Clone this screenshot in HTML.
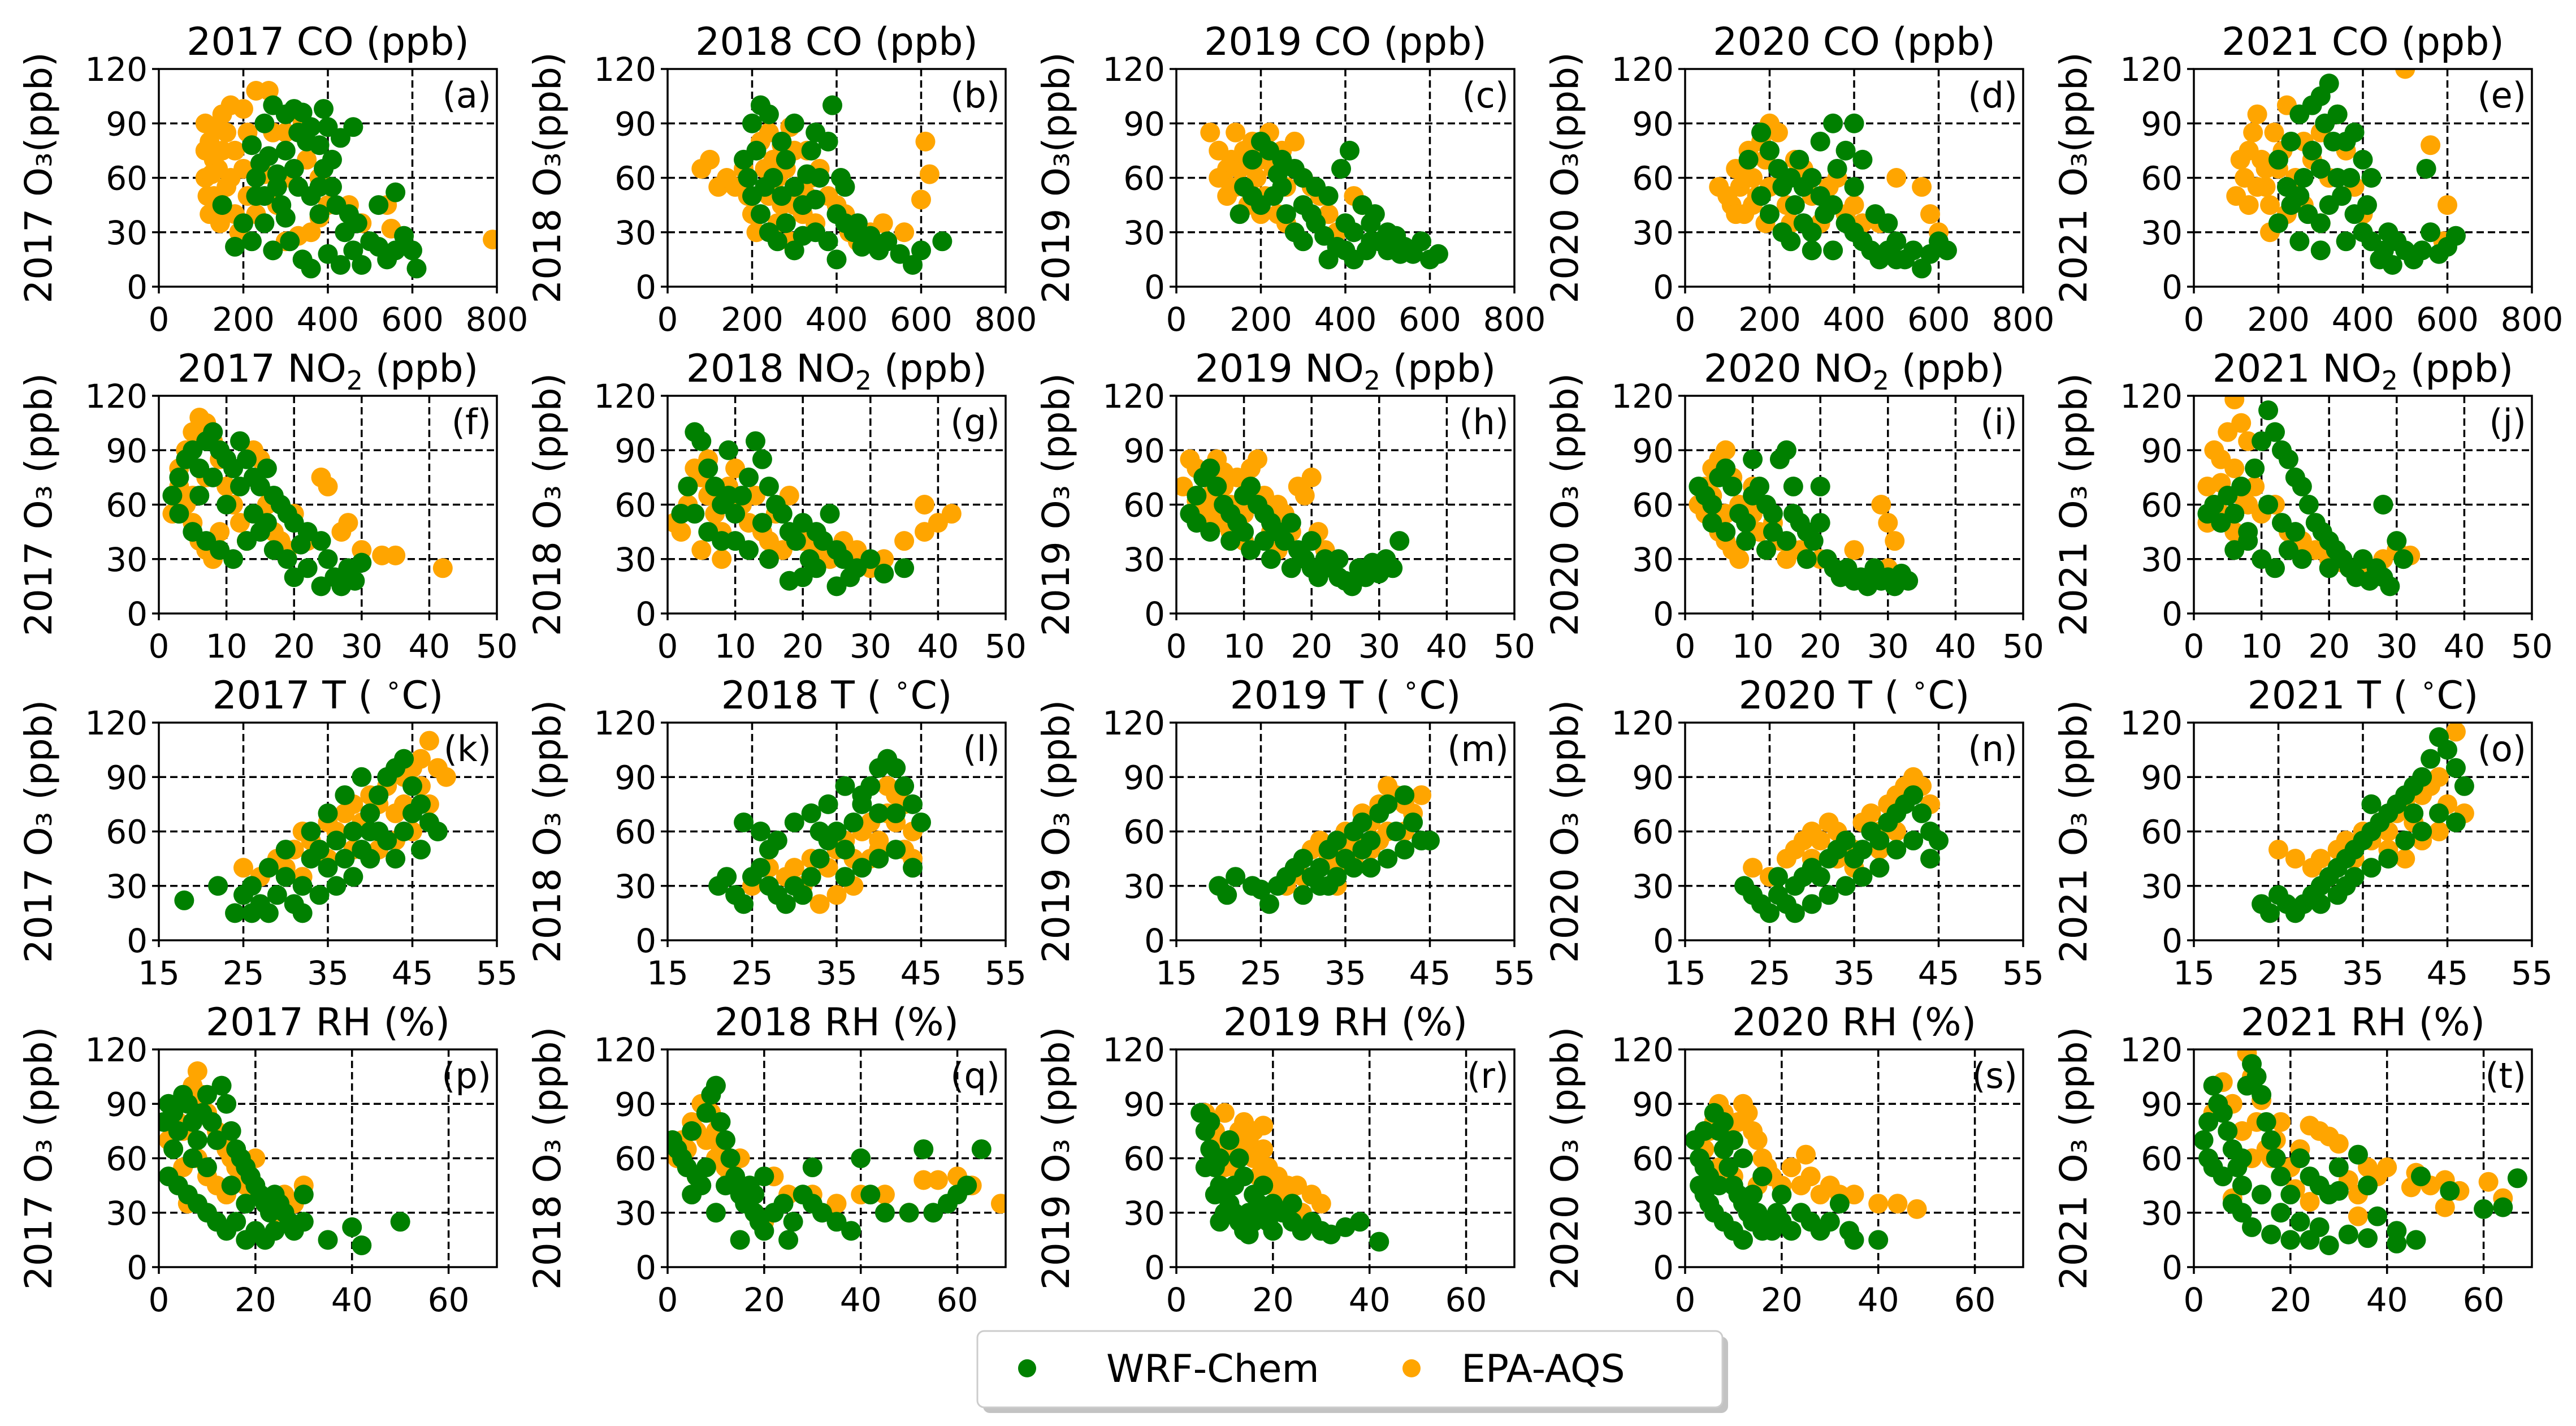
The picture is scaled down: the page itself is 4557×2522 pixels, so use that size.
<!DOCTYPE html>
<html><head><meta charset="utf-8"><style>
html,body{margin:0;padding:0;background:#fff}
svg{display:block;font-family:"DejaVu Sans","Liberation Sans",sans-serif}
</style></head><body>
<svg id="fig" width="4557" height="2522" viewBox="0 0 4557 2522" xmlns="http://www.w3.org/2000/svg">
<rect width="4557" height="2522" fill="#fff"/>
<g id="panels"></g>
<g>
<rect x="1739" y="2364" width="1318" height="135" rx="12" fill="#888" opacity="0.5"/>
<rect x="1729" y="2354" width="1318" height="135" rx="12" fill="#fff" stroke="#ccc" stroke-width="3"/>
<circle cx="1817" cy="2420" r="16" fill="#008000"/>
<text x="1957" y="2444" font-size="68">WRF-Chem</text>
<circle cx="2497" cy="2420" r="16" fill="#FFA500"/>
<text x="2585" y="2444" font-size="68">EPA-AQS</text>
</g>
</svg>
<script>
const yTicks=[0,30,60,90,120];
const coTicks=[0,200,400,600,800];
const no2Ticks=[0,10,20,30,40,50];
const tTicks=[15,25,35,45,55];
const rhTicks=[0,20,40,60];
const years=["2017","2018","2019","2020","2021"];
const letters="abcdefghijklmnopqrst".split("");

const G_a=[[230,60],[250,90],[270,100],[300,95],[320,98],[340,96],[390,98],[400,88],[430,82],[460,88],[350,80],[380,78],[300,75],[260,72],[220,78],[240,68],[280,55],[330,55],[360,50],[410,55],[420,45],[380,40],[300,38],[250,35],[180,22],[220,25],[270,20],[310,25],[340,15],[360,10],[400,18],[430,12],[460,20],[480,12],[520,22],[540,15],[560,20],[580,28],[600,20],[610,10],[560,52],[520,45],[450,40],[470,35],[200,35],[150,45],[320,65],[390,65],[230,50],[290,45],[360,88],[330,85],[410,70],[280,62],[250,50],[440,30],[500,25],[380,55]];
const O_a=[[110,90],[120,80],[130,70],[110,60],[130,50],[120,40],[140,45],[150,95],[170,100],[200,98],[230,108],[260,108],[160,85],[180,75],[200,65],[210,50],[230,40],[250,62],[270,85],[300,85],[310,60],[340,90],[350,70],[360,30],[330,28],[300,25],[380,60],[400,45],[450,45],[480,35],[540,45],[550,32],[790,26],[140,65],[160,55],[180,40],[210,85],[190,30],[380,38],[280,45],[110,75],[115,50],[125,62],[150,75],[145,35],[170,60],[130,88]];
const G_b=[[200,90],[220,100],[240,95],[270,80],[300,90],[350,85],[390,100],[380,80],[410,60],[420,55],[180,70],[190,60],[200,50],[220,40],[240,30],[260,25],[280,35],[300,20],[320,28],[350,30],[380,25],[400,15],[420,35],[440,30],[460,22],[480,28],[500,20],[520,25],[550,18],[580,12],[600,20],[650,25],[300,55],[330,62],[360,60],[250,60],[280,70],[230,55],[450,35],[320,45],[350,48],[270,50],[340,75],[400,40],[210,75]];
const O_b=[[80,65],[100,70],[120,55],[140,60],[160,55],[180,65],[190,50],[200,40],[210,30],[220,80],[240,85],[250,70],[260,60],[270,45],[280,65],[290,88],[300,75],[310,55],[320,40],[330,75],[340,60],[350,35],[360,65],[380,50],[400,45],[420,40],[430,30],[450,25],[480,30],[510,35],[560,30],[600,48],[610,80],[620,62],[260,35],[240,50],[290,25],[330,50],[230,65],[270,78],[300,45],[250,55]];
const G_c=[[160,55],[180,70],[200,80],[220,75],[250,70],[280,65],[300,60],[330,55],[360,50],[390,65],[410,75],[200,45],[230,50],[260,40],[280,30],[300,25],[330,35],[350,28],[380,22],[400,20],[420,30],[440,45],[460,35],[480,25],[500,20],[520,28],[540,22],[560,18],[580,25],[600,15],[620,18],[150,40],[180,50],[420,15],[450,20],[500,30],[360,15],[470,40],[250,55],[300,45],[240,62],[320,40],[400,35],[530,18],[460,25]];
const O_c=[[80,85],[100,75],[110,60],[120,50],[130,70],[140,85],[150,65],[160,55],[170,45],[180,80],[190,60],[200,70],[210,50],[220,85],[230,65],[240,40],[250,75],[260,55],[280,80],[300,60],[320,55],[340,50],[360,40],[380,30],[420,50],[440,45],[120,65],[200,40],[160,75],[260,35],[140,55],[180,68],[100,60]];
const G_d=[[150,70],[180,85],[200,75],[220,65],[250,60],[280,55],[300,60],[320,80],[350,90],[380,75],[400,90],[420,70],[180,50],[200,40],[230,30],[250,25],[280,35],[300,30],[330,40],[350,45],[380,35],[400,30],[420,25],[440,20],[460,15],[480,20],[500,25],[520,15],[540,20],[560,10],[580,18],[600,25],[620,20],[450,40],[480,35],[300,20],[350,20],[260,45],[230,55],[320,50],[270,70],[400,55],[360,65],[500,15]];
const O_d=[[80,55],[100,50],[110,45],[120,65],[130,55],[140,40],[150,75],[160,60],[170,50],[180,80],[190,70],[200,90],[220,85],[230,60],[240,45],[250,35],[260,70],[280,65],[300,50],[320,35],[340,55],[360,60],[380,40],[400,45],[420,35],[460,35],[500,60],[560,55],[580,40],[600,30],[200,55],[160,45],[120,40],[140,60],[190,35]];
const G_e=[[200,70],[230,80],[250,95],[280,100],[300,105],[320,112],[340,95],[360,80],[380,85],[400,70],[420,60],[220,55],[250,50],[270,40],[300,35],[320,45],[350,50],[380,40],[400,30],[420,25],[450,20],[480,25],[500,20],[520,15],[540,20],[560,30],[580,18],[600,22],[620,28],[440,15],[470,12],[250,25],[200,35],[300,20],[360,25],[550,65],[300,65],[280,75],[340,60],[230,45],[330,80],[310,90],[370,60],[260,60],[410,45],[460,30]];
const O_e=[[100,50],[120,60],[130,75],[140,85],[150,95],[160,70],[170,55],[180,45],[190,85],[200,65],[210,75],[220,100],[240,60],[260,45],[280,70],[300,85],[320,60],[340,95],[360,75],[380,55],[400,40],[300,35],[500,120],[560,78],[590,25],[600,45],[180,30],[220,40],[260,80],[150,55],[130,45],[170,65],[110,70]];
const G_f=[[2,65],[3,75],[4,85],[5,90],[6,80],[7,95],[8,100],[9,90],[10,85],[11,80],[12,95],[13,85],[14,75],[15,70],[16,80],[17,65],[18,60],[19,55],[20,50],[3,55],[5,45],[7,40],[9,35],[11,30],[13,40],[15,45],[17,35],[19,30],[20,20],[22,25],[24,15],[25,30],[26,20],[27,15],[28,25],[29,18],[30,28],[22,45],[24,40],[10,60],[14,55],[6,65],[12,70],[16,50],[21,38],[8,75]];
const O_f=[[2,55],[3,70],[4,90],[5,100],[6,108],[7,105],[8,95],[9,85],[4,60],[5,50],[6,40],[7,35],[8,30],[10,70],[11,60],[12,50],[13,40],[14,90],[15,85],[16,60],[17,45],[18,40],[19,35],[20,55],[22,40],[24,75],[25,70],[27,45],[28,50],[33,32],[35,32],[42,25],[30,35],[9,45],[3,80],[5,65],[7,75]];
const G_g=[[2,55],[3,70],[4,100],[5,95],[6,80],[7,70],[8,60],[9,90],[10,55],[11,65],[12,75],[13,95],[14,85],[15,70],[16,60],[17,55],[18,45],[19,40],[20,50],[21,30],[22,25],[23,40],[24,55],[25,35],[26,30],[27,20],[28,25],[30,30],[32,22],[35,25],[18,18],[20,20],[15,30],[12,35],[8,40],[6,45],[4,55],[10,40],[25,15],[14,50],[9,65],[22,45]];
const O_g=[[1,50],[2,45],[3,60],[4,80],[5,75],[6,65],[7,55],[8,45],[9,70],[10,80],[11,60],[12,50],[13,65],[14,45],[15,40],[16,55],[17,35],[18,65],[20,40],[22,35],[24,30],[26,40],[28,35],[30,25],[32,30],[35,40],[38,45],[40,50],[42,55],[38,60],[5,35],[8,30],[3,70],[6,85],[7,45]];
const G_h=[[2,55],[3,65],[4,75],[5,80],[6,70],[7,60],[8,55],[9,50],[10,65],[11,70],[12,60],[13,55],[14,50],[15,45],[16,40],[17,50],[18,35],[19,30],[20,25],[21,20],[22,30],[23,25],[24,20],[25,18],[26,15],[27,25],[28,20],[29,28],[30,22],[31,30],[32,25],[33,40],[5,45],[8,40],[11,35],[14,30],[17,25],[3,50],[20,40],[10,45],[24,30],[13,40]];
const O_h=[[1,70],[2,85],[3,80],[4,75],[5,65],[6,85],[7,70],[8,60],[9,75],[10,55],[11,80],[12,85],[13,65],[14,45],[15,60],[16,55],[17,45],[18,70],[19,65],[20,75],[21,45],[22,35],[4,55],[6,50],[8,45],[15,35],[10,40],[3,62],[7,78],[5,55]];
const G_i=[[2,70],[3,65],[4,60],[5,75],[6,80],[7,70],[8,55],[9,50],[10,65],[11,70],[12,60],[13,55],[14,85],[15,90],[16,70],[17,50],[18,45],[19,40],[20,50],[21,30],[22,25],[23,20],[24,25],[25,18],[26,20],[27,15],[28,25],[29,18],[30,20],[31,15],[32,22],[33,18],[6,45],[9,40],[12,35],[15,40],[18,30],[4,50],[10,85],[20,70],[16,55],[13,45]];
const O_i=[[2,60],[3,55],[4,80],[5,85],[6,90],[7,75],[8,60],[9,50],[5,45],[6,40],[7,35],[8,30],[10,55],[11,45],[12,35],[13,50],[14,40],[15,30],[17,35],[20,30],[25,35],[29,60],[30,50],[31,40],[30,25],[3,70],[10,70],[4,65],[6,55]];
const G_j=[[2,55],[3,60],[4,50],[5,65],[6,55],[7,70],[8,45],[9,80],[10,95],[11,112],[12,100],[13,90],[14,85],[15,75],[16,70],[17,60],[18,50],[19,45],[20,40],[21,35],[22,30],[23,25],[24,20],[25,30],[26,18],[27,25],[28,20],[29,15],[30,40],[31,30],[10,30],[12,25],[14,35],[16,30],[8,40],[28,60],[20,25],[6,35],[11,60],[13,50],[15,45]];
const O_j=[[2,70],[3,90],[4,85],[5,100],[6,118],[7,105],[8,95],[3,60],[4,55],[5,50],[6,45],[7,40],[8,60],[9,70],[10,55],[12,60],[14,45],[16,40],[18,35],[20,30],[22,28],[25,25],[28,30],[30,35],[32,32],[2,50],[4,72],[6,80],[7,65]];
const G_k=[[18,22],[22,30],[24,15],[25,25],[26,30],[27,20],[28,15],[29,25],[30,35],[31,20],[32,30],[33,45],[34,25],[35,40],[36,55],[37,45],[38,60],[39,50],[40,70],[41,80],[42,90],[43,95],[44,100],[45,85],[46,75],[47,65],[48,60],[36,30],[38,35],[40,45],[42,55],[44,60],[46,50],[30,50],[33,60],[35,70],[37,80],[39,90],[41,60],[43,45],[26,15],[32,15],[28,40],[34,50],[45,70],[40,60]];
const O_k=[[25,40],[27,35],[29,45],[30,40],[31,50],[32,60],[33,55],[34,50],[35,65],[36,60],[37,70],[38,75],[39,65],[40,80],[41,75],[42,85],[43,70],[44,90],[45,95],[46,100],[47,110],[48,95],[49,90],[43,55],[45,60],[47,75],[41,50],[38,50],[35,45],[32,35],[44,75],[46,85]];
const G_l=[[21,30],[22,35],[23,25],[24,20],[25,35],[26,40],[27,30],[28,25],[29,20],[30,30],[31,25],[32,35],[33,45],[34,55],[35,60],[36,50],[37,65],[38,75],[39,85],[40,95],[41,100],[42,95],[43,85],[44,75],[45,65],[24,65],[26,60],[28,55],[30,65],[32,70],[34,75],[36,85],[38,80],[40,70],[42,50],[44,40],[36,35],[38,40],[40,45],[27,50],[33,60],[42,70]];
const O_l=[[25,30],[27,40],[29,35],[30,40],[31,30],[32,45],[33,20],[34,40],[35,50],[36,55],[37,45],[38,60],[39,65],[40,55],[41,70],[42,80],[43,75],[44,60],[44,45],[43,50],[42,65],[40,50],[37,30],[35,25],[41,85],[39,45]];
const G_m=[[20,30],[21,25],[22,35],[24,30],[25,28],[26,20],[27,30],[28,35],[29,40],[30,45],[31,35],[32,40],[33,50],[34,55],[35,45],[36,60],[37,65],[38,55],[39,70],[40,75],[41,60],[42,80],[43,65],[44,55],[45,55],[38,40],[40,45],[36,40],[34,35],[32,30],[30,25],[42,50],[33,30],[37,50]];
const O_m=[[28,30],[30,35],[31,50],[32,55],[33,45],[34,40],[35,60],[36,55],[37,70],[38,65],[39,75],[40,85],[41,80],[42,75],[43,70],[44,80],[38,50],[36,45],[34,30],[40,60],[42,60],[35,50],[39,55]];
const G_n=[[22,30],[23,25],[24,20],[25,15],[26,25],[27,20],[28,30],[29,35],[30,40],[31,35],[32,45],[33,50],[34,55],[35,45],[36,50],[37,60],[38,55],[39,65],[40,70],[41,75],[42,80],[43,70],[44,60],[45,55],[40,50],[42,55],[38,40],[36,35],[34,30],[32,25],[30,20],[28,15],[26,35],[44,45]];
const O_n=[[23,40],[25,35],[27,45],[28,50],[29,55],[30,60],[31,55],[32,65],[33,60],[34,55],[35,50],[36,65],[37,70],[38,60],[39,75],[40,80],[41,85],[42,90],[43,85],[44,75],[40,60],[38,50],[35,40],[30,45],[33,45]];
const G_o=[[23,20],[24,15],[25,25],[26,20],[27,15],[28,20],[29,25],[30,30],[31,35],[32,40],[33,45],[34,50],[35,55],[36,60],[37,65],[38,70],[39,75],[40,80],[41,85],[42,90],[43,100],[44,112],[45,105],[46,95],[47,85],[40,55],[42,60],[44,70],[38,45],[36,40],[34,35],[32,25],[30,20],[46,65],[36,75],[41,70],[33,30]];
const O_o=[[25,50],[27,45],[29,40],[30,45],[31,35],[32,50],[33,55],[34,45],[35,60],[36,55],[37,65],[38,60],[39,70],[40,75],[41,65],[42,80],[43,85],[44,90],[45,75],[46,115],[47,70],[44,60],[42,55],[40,45],[38,50]];
const G_p=[[1,80],[2,90],[3,85],[4,75],[5,95],[6,90],[7,80],[8,70],[9,85],[10,95],[11,80],[12,70],[13,100],[14,90],[15,75],[16,65],[17,60],[18,55],[19,50],[20,45],[21,40],[22,35],[23,30],[24,40],[25,35],[26,30],[27,25],[28,20],[30,25],[2,50],[4,45],[6,40],[8,35],[10,30],[12,25],[14,20],[16,25],[18,15],[20,20],[22,15],[24,20],[35,15],[40,22],[42,12],[50,25],[30,40],[10,55],[3,65],[7,60],[15,45],[18,35]];
const O_p=[[2,70],[3,65],[4,80],[5,75],[6,90],[7,100],[8,108],[9,95],[10,85],[11,80],[12,75],[13,70],[14,65],[15,60],[16,55],[17,50],[18,45],[20,40],[22,35],[24,30],[26,40],[28,35],[30,45],[5,55],[8,60],[10,50],[12,45],[14,40],[6,35],[20,60]];
const G_q=[[1,70],[2,65],[3,60],[4,55],[5,75],[6,50],[7,45],[8,85],[9,95],[10,100],[11,80],[12,70],[13,60],[14,50],[15,40],[16,35],[17,45],[18,30],[19,25],[20,20],[22,30],[24,35],[26,25],[28,40],[30,35],[32,30],[35,25],[38,20],[40,60],[42,40],[45,30],[50,30],[53,65],[55,30],[58,35],[60,40],[62,45],[65,65],[5,40],[10,30],[15,15],[25,15],[20,50],[30,55],[8,55],[12,45],[18,40]];
const O_q=[[2,60],[3,70],[4,65],[5,80],[6,75],[7,90],[8,70],[9,85],[10,75],[11,65],[12,55],[13,50],[14,45],[15,60],[16,40],[18,30],[20,25],[22,50],[25,40],[30,40],[35,35],[40,40],[45,40],[50,30],[53,48],[56,48],[60,50],[63,45],[69,35],[10,60],[6,50]];
const G_r=[[5,85],[6,75],[7,65],[8,55],[9,45],[10,40],[11,35],[12,30],[13,25],[14,20],[15,30],[16,25],[17,35],[18,30],[19,25],[20,20],[22,30],[24,25],[26,20],[28,25],[30,20],[32,18],[35,22],[38,25],[42,14],[6,55],[8,40],[10,30],[12,45],[14,50],[16,40],[18,45],[20,35],[7,80],[9,60],[11,70],[13,60],[9,25],[15,18],[24,35]];
const O_r=[[6,85],[7,80],[8,75],[9,70],[10,85],[11,65],[12,55],[13,75],[14,80],[15,70],[16,60],[17,50],[18,65],[19,55],[20,45],[21,50],[22,40],[23,45],[24,35],[25,45],[26,30],[28,40],[30,35],[10,55],[12,60],[16,75],[14,65],[18,78]];
const G_s=[[2,70],[3,60],[4,55],[5,50],[6,85],[7,75],[8,65],[9,55],[10,45],[11,40],[12,35],[13,30],[14,25],[15,30],[16,20],[17,25],[18,20],[19,30],[20,25],[22,20],[24,30],[26,25],[28,20],[30,25],[32,35],[34,20],[35,15],[40,15],[3,45],[4,40],[5,35],[6,30],[8,25],[10,20],[12,15],[14,40],[16,50],[8,80],[10,70],[12,60],[4,75],[7,45],[20,40]];
const O_s=[[4,65],[5,75],[6,80],[7,90],[8,85],[9,75],[10,70],[11,80],[12,90],[13,85],[14,75],[15,70],[16,60],[17,55],[18,50],[20,45],[22,55],[24,45],[26,50],[28,40],[30,45],[32,40],[35,40],[40,35],[44,35],[48,32],[25,62],[10,50],[15,45],[7,55]];
const G_t=[[2,70],[3,80],[4,100],[5,90],[6,85],[7,75],[8,65],[9,55],[10,45],[11,100],[12,112],[13,105],[14,95],[15,80],[16,70],[17,60],[18,50],[20,40],[22,60],[24,50],[26,45],[28,40],[30,55],[34,62],[36,45],[38,28],[42,20],[42,13],[46,15],[47,50],[53,42],[60,32],[64,33],[67,49],[8,35],[10,30],[12,22],[16,18],[20,15],[24,15],[28,12],[32,18],[36,16],[3,60],[6,50],[4,55],[30,42],[10,60],[14,40],[18,30],[22,25],[26,22]];
const O_t=[[4,85],[6,102],[8,90],[10,75],[11,118],[12,105],[13,80],[14,92],[15,65],[16,60],[17,70],[18,80],[20,55],[22,65],[24,78],[26,75],[28,72],[30,68],[32,48],[34,40],[34,28],[36,55],[38,50],[40,55],[45,44],[46,52],[49,45],[52,48],[52,33],[55,42],[61,47],[64,38],[12,60],[8,38],[21,43],[24,36]];

const WRF=[G_a,G_b,G_c,G_d,G_e,G_f,G_g,G_h,G_i,G_j,G_k,G_l,G_m,G_n,G_o,G_p,G_q,G_r,G_s,G_t];
const EPA=[O_a,O_b,O_c,O_d,O_e,O_f,O_g,O_h,O_i,O_j,O_k,O_l,O_m,O_n,O_o,O_p,O_q,O_r,O_s,O_t];
const rowVars=[
 {key:"co",ticks:coTicks,min:0,max:800,label:"CO (ppb)"},
 {key:"no2",ticks:no2Ticks,min:0,max:50,label:"NO2"},
 {key:"t",ticks:tTicks,min:15,max:55,label:"T"},
 {key:"rh",ticks:rhTicks,min:0,max:70,label:"RH (%)"}];

const NS="http://www.w3.org/2000/svg";
const root=document.getElementById("panels");
function mk(tag,attrs,parent){const e=document.createElementNS(NS,tag);for(const k in attrs)e.setAttribute(k,attrs[k]);parent.appendChild(e);return e;}
const W=598,H=385,L0=281,T0=122,DX=900,DY=578,RAD=17.5;

for(let r=0;r<4;r++){for(let c=0;c<5;c++){
 const idx=r*5+c,v=rowVars[r],L=L0+c*DX,T=T0+r*DY,B=T+H,R=L+W;
 const xs=x=>L+(x-v.min)/(v.max-v.min)*W;
 const ys=y=>B-(y)/120*H;
 const g=mk("g",{},root);
 
 
 v.ticks.forEach(t=>{if(t>v.min&&t<v.max){const l=mk("line",{x1:xs(t),x2:xs(t),y1:T,y2:B,stroke:"#000","stroke-width":3.5,"stroke-dasharray":"13,7"},g);
  
  }});
 [30,60,90].forEach(t=>{const l=mk("line",{x1:L,x2:R,y1:ys(t),y2:ys(t),stroke:"#000","stroke-width":3.5,"stroke-dasharray":"13,7"},g);
  
  });
 const clip="clip"+idx;
 const cp=mk("clipPath",{id:clip},g);mk("rect",{x:L,y:T,width:W,height:H},cp);
 const pg=mk("g",{"clip-path":"url(#"+clip+")"},g);
 EPA[idx].forEach(p=>{const d=mk("circle",{cx:xs(p[0]),cy:ys(p[1]),r:RAD,fill:"#FFA500"},pg);
  
  });
 WRF[idx].forEach(p=>{const d=mk("circle",{cx:xs(p[0]),cy:ys(p[1]),r:RAD,fill:"#008000"},pg);
  
  });
 const fr=mk("rect",{x:L,y:T,width:W,height:H,fill:"none",stroke:"#000","stroke-width":3.5},g);
 
 
 v.ticks.forEach(t=>{mk("line",{x1:xs(t),x2:xs(t),y1:B,y2:B+12,stroke:"#000","stroke-width":3.5},g);
  const tx=mk("text",{x:xs(t),y:B+78,"font-size":58,"text-anchor":"middle"},g);tx.textContent=t;
  
  });
 yTicks.forEach(t=>{mk("line",{x1:L-12,x2:L,y1:ys(t),y2:ys(t),stroke:"#000","stroke-width":3.5},g);
  const tx=mk("text",{x:L-20,y:ys(t)+21,"font-size":58,"text-anchor":"end"},g);tx.textContent=t;
  
  });
 const pl=mk("text",{x:R-10,y:T+68,"font-size":62,"text-anchor":"end"},g);pl.textContent="("+letters[idx]+")";
 
 
 const ti=mk("text",{x:L+W/2,y:T-25,"font-size":68,"text-anchor":"middle"},g);
 
 
 if(v.key==="no2"){ti.appendChild(document.createTextNode(years[c]+" NO"));
  const s=mk("tspan",{"font-size":46,dy:14},ti);s.textContent="2";
  const s2=mk("tspan",{dy:-14},ti);s2.textContent=" (ppb)";}
 else if(v.key==="t"){ti.appendChild(document.createTextNode(years[c]+" T ( "));
  const s=mk("tspan",{"font-size":46,dy:-26},ti);s.textContent="\u2218";
  const s2=mk("tspan",{dy:26},ti);s2.textContent="C)";}
 else ti.textContent=years[c]+" "+v.label;
 const yl=mk("text",{x:0,y:0,"font-size":66,"text-anchor":"middle",transform:"translate("+(L-190)+","+(T+H/2)+") rotate(-90)"},g);
 yl.textContent=years[c]+" O\u2083"+(r===0?"(ppb)":" (ppb)");
 
 
}}
</script>
</body></html>
